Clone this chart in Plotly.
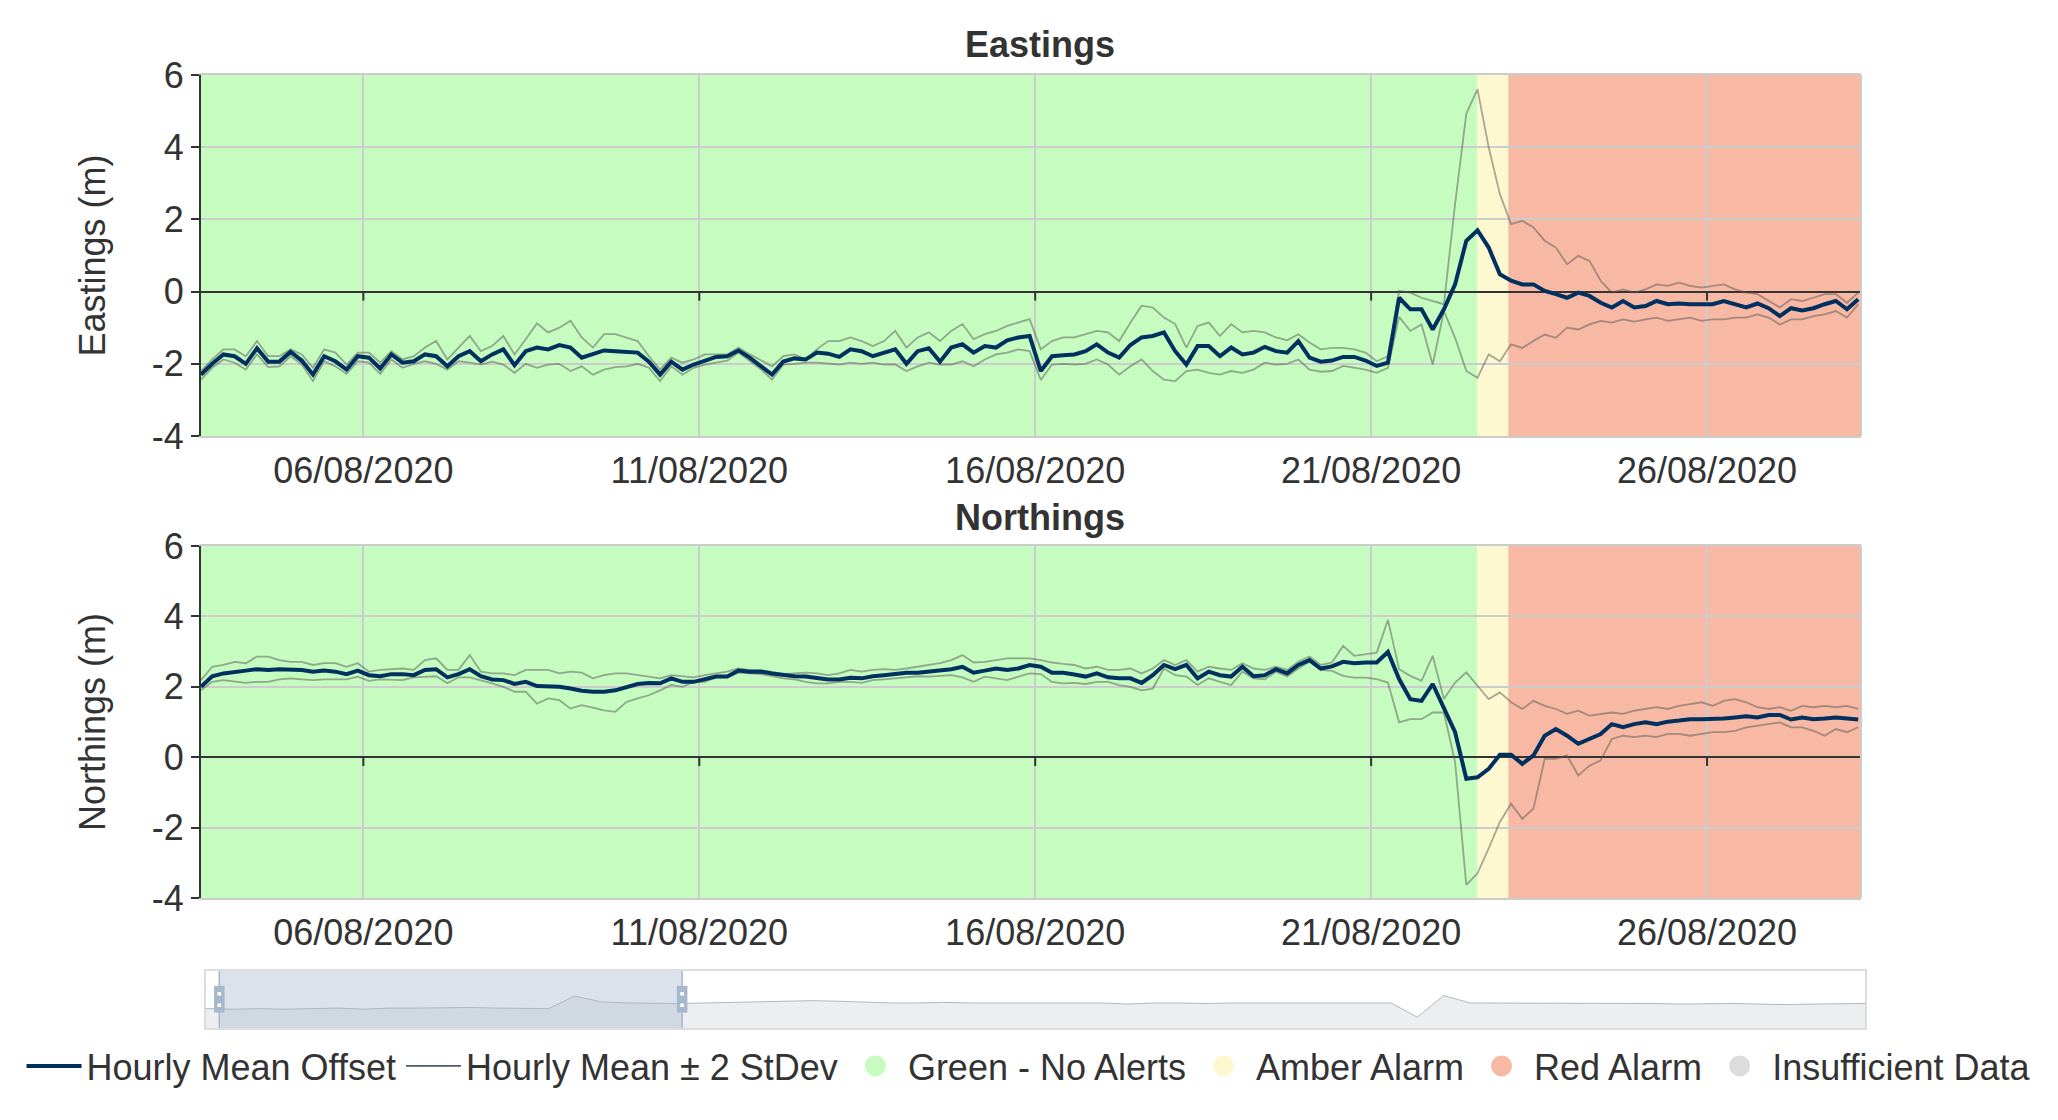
import pandas as pd
import plotly.graph_objects as go

# ---------------- data (4-hourly samples) ----------------
start_time = "2020-08-03 14:00"
range_end = "2020-08-28 07:00"
tick_dates = ["2020-08-06", "2020-08-11", "2020-08-16", "2020-08-21", "2020-08-26"]
y_ticks = [-4, -2, 0, 2, 4, 6]
y_tick_text = ["-4", "-2", "0", "2", "4", "6"]

e_mean = [-2.30, -2.00, -1.74, -1.79, -2.00, -1.57, -1.94, -1.94, -1.67, -1.91,
          -2.30, -1.79, -1.93, -2.16, -1.79, -1.83, -2.13, -1.74, -1.97, -1.93,
          -1.74, -1.79, -2.07, -1.79, -1.65, -1.93, -1.74, -1.60, -2.04, -1.65,
          -1.55, -1.60, -1.48, -1.55, -1.83, -1.74, -1.63, -1.65, -1.67, -1.69,
          -1.94, -2.30, -1.94, -2.16, -2.02, -1.91, -1.81, -1.79, -1.63, -1.83,
          -2.05,
          -2.30, -1.94, -1.85, -1.88, -1.69, -1.72, -1.81, -1.60, -1.65, -1.79,
          -1.69, -1.60, -2.00, -1.65, -1.57, -1.94, -1.55, -1.46, -1.69, -1.51,
          -1.55, -1.35, -1.27, -1.23, -2.20, -1.79, -1.76, -1.74, -1.65, -1.46,
          -1.69, -1.83, -1.48, -1.27, -1.23, -1.13, -1.65, -2.02, -1.51, -1.51,
          -1.79, -1.55, -1.74, -1.69, -1.53, -1.65, -1.69, -1.37, -1.83, -1.94,
          -1.91, -1.81, -1.81, -1.91, -2.06, -1.97, -0.17, -0.49, -0.49, -1.05,
          -0.49, 0.20, 1.41, 1.70, 1.22, 0.48, 0.30, 0.20, 0.20, 0.02,
          -0.07, -0.17, -0.03, -0.12, -0.31, -0.44, -0.26, -0.44, -0.40, -0.26,
          -0.35, -0.33, -0.35, -0.35, -0.35, -0.26, -0.35, -0.44, -0.33, -0.46,
          -0.68, -0.46, -0.52, -0.46, -0.35, -0.26, -0.49, -0.21]

e_upper = [-2.20, -1.88, -1.60, -1.60, -1.79, -1.37, -1.79, -1.79, -1.60, -1.74,
           -2.11, -1.60, -1.69, -2.02, -1.69, -1.69, -1.97, -1.65, -1.88, -1.79,
           -1.55, -1.37, -1.88, -1.55, -1.23, -1.65, -1.51, -1.23, -1.74, -1.32,
           -0.88, -1.13, -1.00, -0.81, -1.27, -1.55, -1.18, -1.18, -1.27, -1.37,
           -1.79, -2.16, -1.83, -1.97, -1.88, -1.74, -1.74, -1.74, -1.55, -1.74,
           -1.90,
           -2.07, -1.79, -1.74, -1.88, -1.60, -1.37, -1.37, -1.27, -1.37, -1.51,
           -1.37, -1.09, -1.55, -1.27, -1.13, -1.37, -1.09, -0.90, -1.32, -1.18,
           -1.09, -0.95, -0.86, -0.76, -1.60, -1.37, -1.27, -1.27, -1.18, -1.09,
           -1.13, -1.37, -0.86, -0.39, -0.44, -0.72, -0.90, -1.55, -0.95, -0.86,
           -1.23, -0.90, -1.13, -1.09, -1.13, -1.27, -1.35, -1.18, -1.41, -1.60,
           -1.56, -1.56, -1.60, -1.69, -1.93, -1.79, 0.02, -0.03, -0.17, -0.26,
           -0.35, 2.43, 4.93, 5.60, 4.00, 2.70, 1.87, 1.96, 1.78, 1.41,
           1.22, 0.76, 0.99, 0.85, 0.30, -0.03, 0.06, -0.03, 0.06, 0.20,
           0.16, 0.25, 0.16, 0.11, 0.16, 0.20, 0.06, -0.03, -0.07, -0.26,
           -0.44, -0.21, -0.26, -0.17, -0.07, -0.07, -0.31, -0.03]

e_lower = [-2.44, -2.11, -1.88, -1.97, -2.16, -1.74, -2.09, -2.07, -1.79, -2.02,
           -2.48, -1.93, -2.07, -2.28, -1.93, -1.97, -2.28, -1.88, -2.11, -2.00,
           -1.93, -2.00, -2.16, -1.93, -1.97, -2.02, -1.94, -2.02, -2.25, -2.00,
           -2.11, -2.02, -2.00, -2.20, -2.07, -2.30, -2.16, -2.09, -2.07, -2.00,
           -2.11, -2.48, -2.07, -2.30, -2.11, -2.02, -1.97, -1.91, -1.69, -1.93,
           -2.15,
           -2.44, -2.02, -2.00, -1.97, -1.97, -2.00, -2.02, -1.97, -2.00, -1.97,
           -2.02, -2.02, -2.20, -2.07, -1.97, -2.02, -2.02, -1.93, -2.07, -1.88,
           -1.74, -1.69, -1.60, -1.65, -2.45, -2.02, -2.00, -2.02, -2.00, -1.88,
           -2.02, -2.30, -2.07, -1.88, -2.20, -2.44, -2.48, -2.20, -2.16, -2.25,
           -2.30, -2.20, -2.25, -2.16, -1.97, -2.02, -2.00, -1.88, -2.16, -2.22,
           -2.20, -2.06, -2.11, -2.16, -2.25, -2.11, -0.70, -1.09, -0.91, -2.02,
           -0.54, -1.28, -2.20, -2.39, -1.74, -1.93, -1.46, -1.56, -1.37, -1.19,
           -1.28, -1.00, -1.05, -0.91, -0.81, -0.86, -0.77, -0.83, -0.77, -0.72,
           -0.81, -0.77, -0.72, -0.81, -0.77, -0.77, -0.72, -0.72, -0.63, -0.72,
           -0.91, -0.77, -0.77, -0.68, -0.63, -0.54, -0.72, -0.35]

n_mean = [2.00, 2.30, 2.38, 2.43, 2.46, 2.50, 2.48, 2.50, 2.50, 2.48,
          2.43, 2.46, 2.43, 2.36, 2.46, 2.33, 2.30, 2.36, 2.36, 2.33,
          2.48, 2.50, 2.27, 2.36, 2.50, 2.30, 2.21, 2.19, 2.08, 2.14,
          2.02, 2.02, 2.00, 1.95, 1.89, 1.86, 1.86, 1.90, 2.00, 2.08,
          2.11, 2.10, 2.24, 2.14, 2.14, 2.21, 2.29, 2.29, 2.46, 2.43,
          2.43,
          2.38, 2.33, 2.30, 2.29, 2.24, 2.21, 2.21, 2.26, 2.24, 2.30,
          2.33, 2.36, 2.40, 2.40, 2.43, 2.46, 2.50, 2.57, 2.40, 2.46,
          2.52, 2.48, 2.52, 2.62, 2.57, 2.40, 2.40, 2.35, 2.29, 2.38,
          2.27, 2.24, 2.24, 2.11, 2.33, 2.62, 2.50, 2.62, 2.24, 2.43,
          2.33, 2.29, 2.57, 2.30, 2.33, 2.50, 2.38, 2.62, 2.76, 2.52,
          2.58, 2.71, 2.67, 2.69, 2.69, 2.99, 2.22, 1.65, 1.60, 2.08,
          1.42, 0.71, -0.61, -0.57, -0.33, 0.07, 0.07, -0.19, 0.05, 0.61,
          0.80, 0.61, 0.38, 0.52, 0.66, 0.94, 0.85, 0.94, 0.99, 0.94,
          1.01, 1.04, 1.08, 1.08, 1.08, 1.10, 1.13, 1.16, 1.13, 1.20,
          1.20, 1.07, 1.13, 1.08, 1.10, 1.13, 1.10, 1.07]

n_upper = [2.19, 2.57, 2.62, 2.71, 2.67, 2.86, 2.86, 2.76, 2.71, 2.71,
           2.62, 2.67, 2.67, 2.57, 2.67, 2.43, 2.48, 2.50, 2.52, 2.48,
           2.76, 2.81, 2.48, 2.48, 2.90, 2.43, 2.38, 2.38, 2.33, 2.48,
           2.48, 2.48, 2.38, 2.43, 2.40, 2.24, 2.33, 2.38, 2.38, 2.33,
           2.29, 2.24, 2.33, 2.29, 2.27, 2.33, 2.38, 2.43, 2.52, 2.48,
           2.48,
           2.43, 2.36, 2.38, 2.40, 2.38, 2.33, 2.38, 2.48, 2.43, 2.48,
           2.50, 2.48, 2.52, 2.57, 2.62, 2.67, 2.76, 2.90, 2.69, 2.71,
           2.76, 2.81, 2.81, 2.81, 2.76, 2.69, 2.65, 2.62, 2.52, 2.57,
           2.48, 2.48, 2.52, 2.38, 2.52, 2.76, 2.62, 2.76, 2.43, 2.57,
           2.52, 2.48, 2.67, 2.52, 2.48, 2.57, 2.48, 2.71, 2.86, 2.62,
           2.69, 3.16, 2.88, 2.92, 2.97, 3.90, 2.50, 2.31, 2.17, 2.88,
           1.65, 2.12, 2.41, 2.03, 1.65, 1.84, 1.56, 1.37, 1.60, 1.46,
           1.37, 1.23, 1.32, 1.18, 1.23, 1.27, 1.23, 1.32, 1.37, 1.42,
           1.37, 1.46, 1.51, 1.56, 1.46, 1.60, 1.65, 1.56, 1.42, 1.37,
           1.42, 1.32, 1.46, 1.42, 1.46, 1.42, 1.46, 1.37]

n_lower = [1.90, 2.14, 2.19, 2.14, 2.11, 2.14, 2.14, 2.21, 2.24, 2.21,
           2.19, 2.21, 2.21, 2.21, 2.29, 2.17, 2.21, 2.21, 2.19, 2.27,
           2.29, 2.30, 2.10, 2.27, 2.27, 2.19, 2.10, 2.00, 1.86, 1.86,
           1.52, 1.67, 1.62, 1.38, 1.48, 1.41, 1.33, 1.29, 1.57, 1.67,
           1.76, 1.90, 2.05, 2.00, 2.14, 2.14, 2.27, 2.27, 2.40, 2.38,
           2.36,
           2.30, 2.24, 2.21, 2.14, 2.10, 2.10, 2.14, 2.14, 2.11, 2.19,
           2.21, 2.24, 2.29, 2.30, 2.29, 2.30, 2.33, 2.27, 2.14, 2.29,
           2.24, 2.19, 2.29, 2.38, 2.36, 2.14, 2.10, 2.11, 2.08, 2.14,
           2.14, 2.05, 2.00, 1.90, 1.95, 2.52, 2.33, 2.29, 2.05, 2.24,
           2.14, 2.05, 2.43, 2.24, 2.21, 2.43, 2.29, 2.52, 2.71, 2.48,
           2.45, 2.31, 2.26, 2.26, 2.22, 2.12, 0.99, 1.08, 1.08, 1.27,
           1.27, -0.14, -3.63, -3.30, -2.59, -1.84, -1.32, -1.75, -1.46, -0.05,
           -0.05, 0.05, -0.52, -0.24, -0.09, 0.52, 0.61, 0.57, 0.61, 0.57,
           0.66, 0.66, 0.61, 0.66, 0.71, 0.71, 0.75, 0.85, 0.90, 0.94,
           0.99, 0.85, 0.85, 0.75, 0.61, 0.80, 0.71, 0.85]

# alarm state periods
band_start = ["2020-08-03 14:00", "2020-08-22 14:00", "2020-08-23 01:00"]
band_end = ["2020-08-22 14:00", "2020-08-23 01:00", "2020-08-28 07:00"]
band_state = ["Green - No Alerts", "Amber Alarm", "Red Alarm"]

state_names = ["Green - No Alerts", "Amber Alarm", "Red Alarm", "Insufficient Data"]
state_colors = ["#c6fcbf", "#fef8d1", "#f7b9a3", "#dcdcdc"]

# data-zoom slider: overview shadow and selected window (percent)
shadow = [0.34, 0.33, 0.34, 0.33, 0.34, 0.35, 0.33, 0.35, 0.35, 0.36,
          0.36, 0.35, 0.34, 0.34, 0.56, 0.46, 0.44, 0.43, 0.43, 0.44,
          0.45, 0.45, 0.47, 0.48, 0.47, 0.45, 0.44, 0.44, 0.45, 0.44,
          0.44, 0.44, 0.44, 0.43, 0.44, 0.42, 0.44, 0.44, 0.43, 0.44,
          0.44, 0.44, 0.44, 0.43, 0.44, 0.44, 0.19, 0.57, 0.44, 0.44,
          0.44, 0.43, 0.44, 0.43, 0.43, 0.43, 0.42, 0.43, 0.43, 0.42,
          0.41, 0.42, 0.43, 0.43]
zoom_start_pct = 0.8
zoom_end_pct = 28.7

# ---------------- figure ----------------
times = pd.date_range(start_time, periods=len(e_mean), freq="4h")
color_of = dict(zip(state_names, state_colors))

FONT = "Liberation Sans, Arial, Helvetica, sans-serif"
TXT = "#333333"
MEAN_C = "#00305f"
BAND_C = "rgba(85,85,85,0.5)"
BAND_LEG_C = "#4f5b66"

W, H = 2058, 1120
X_DOM = [201 / W, 1861 / W]
Y1_DOM = [(H - 436) / H, (H - 75) / H]
Y2_DOM = [(H - 898) / H, (H - 546) / H]
S_XDOM = [206 / W, 1865 / W]
S_YDOM = [(H - 1028) / H, (H - 971) / H]

fig = go.Figure()

panels = [("x", "y", e_mean, e_upper, e_lower), ("x2", "y2", n_mean, n_upper, n_lower)]
for k, (xa, ya, mean, up, lo) in enumerate(panels):
    for series in (up, lo):
        fig.add_trace(go.Scatter(x=times, y=series, xaxis=xa, yaxis=ya, mode="lines",
                                 line=dict(color=BAND_C, width=1.8),
                                 name="Hourly Mean ± 2 StDev", legendgroup="sd",
                                 showlegend=False))
    fig.add_trace(go.Scatter(x=times, y=mean, xaxis=xa, yaxis=ya, mode="lines",
                             line=dict(color=MEAN_C, width=4), name="Hourly Mean Offset",
                             legendgroup="mean", showlegend=(k == 0), legendrank=1))

# legend entry for the ±2 StDev series (drawn in the series' legend colour)
fig.add_trace(go.Scatter(x=[None], y=[None], mode="lines", name="Hourly Mean ± 2 StDev",
                         line=dict(color=BAND_LEG_C, width=1.8), legendgroup="sd",
                         legendrank=2))

for r, (nm, col) in enumerate(zip(state_names, state_colors)):
    fig.add_trace(go.Scatter(x=[None], y=[None], mode="markers", name=nm,
                             marker=dict(color=col, size=16, symbol="circle",
                                         line=dict(color=col, width=5)),
                             legendrank=3 + r))

# slider shadow
sx = list(range(len(shadow)))
fig.add_trace(go.Scatter(x=sx, y=shadow, xaxis="x3", yaxis="y3", mode="lines",
                         line=dict(color="rgba(47,69,84,0.35)", width=1),
                         fill="tozeroy", fillcolor="rgba(47,69,84,0.09)",
                         showlegend=False, hoverinfo="skip"))

shapes = []
for xa, ya in [("x", "y"), ("x2", "y2")]:
    for s, e, st in zip(band_start, band_end, band_state):
        shapes.append(dict(type="rect", xref=xa, yref=ya + " domain", x0=s, x1=e, y0=0, y1=1,
                           fillcolor=color_of[st], line=dict(width=0), layer="below"))
    for t in tick_dates:
        shapes.append(dict(type="line", xref=xa, yref=ya, x0=t, x1=t, y0=0, y1=-0.25,
                           line=dict(color=TXT, width=2), layer="above"))
    shapes.append(dict(type="line", xref=xa + " domain", yref=ya + " domain", x0=1, x1=1,
                       y0=0, y1=1, line=dict(color="#cccccc", width=2), layer="above"))

# slider window
n_sh = len(shadow) - 1
w0 = zoom_start_pct / 100 * n_sh
w1 = zoom_end_pct / 100 * n_sh
shapes.append(dict(type="rect", xref="x3", yref="y3 domain", x0=w0, x1=w1, y0=0, y1=1,
                   fillcolor="rgba(167,183,204,0.4)", line=dict(width=0), layer="above"))
hw = 0.2
for wx in (w0, w1):
    shapes.append(dict(type="line", xref="x3", yref="y3 domain", x0=wx, x1=wx, y0=0, y1=1,
                       line=dict(color="#a7b7cc", width=1.5), layer="above"))
    shapes.append(dict(type="rect", xref="x3", yref="y3 domain", x0=wx - hw, x1=wx + hw,
                       y0=0.27, y1=0.74, fillcolor="#a7b7cc", line=dict(width=0), layer="above"))
    for yy in (0.4, 0.6):
        shapes.append(dict(type="rect", xref="x3", yref="y3 domain", x0=wx - 0.07, x1=wx + 0.07,
                           y0=yy - 0.03, y1=yy + 0.03, fillcolor="white", line=dict(width=0),
                           layer="above"))

fig.update_layout(shapes=shapes)

xcommon = dict(domain=X_DOM, type="date", range=[start_time, range_end],
               tickvals=tick_dates, tickformat="%d/%m/%Y", showgrid=True,
               gridcolor="#cccccc", gridwidth=1.5, showline=True, mirror=True,
               linecolor="#cccccc", linewidth=2, ticks="", zeroline=False,
               tickfont=dict(family=FONT, size=36, color=TXT), ticklabelstandoff=2)
ycommon = dict(range=[-4, 6], tickvals=y_ticks, ticktext=y_tick_text, showgrid=True,
               gridcolor="#cccccc", gridwidth=1.5, zeroline=True, zerolinecolor=TXT,
               zerolinewidth=2, showline=True, linecolor=TXT, linewidth=2, mirror=False,
               ticks="outside", ticklen=8, tickwidth=2, tickcolor=TXT,
               tickfont=dict(family=FONT, size=36, color=TXT), ticklabelstandoff=0)

fig.update_layout(
    width=W, height=H, autosize=False,
    margin=dict(l=0, r=0, t=0, b=0, autoexpand=False),
    paper_bgcolor="white", plot_bgcolor="white",
    font=dict(family=FONT, size=36, color=TXT),
    xaxis=dict(anchor="y", **xcommon),
    yaxis=dict(anchor="x", domain=Y1_DOM, **ycommon),
    xaxis2=dict(anchor="y2", **xcommon),
    yaxis2=dict(anchor="x2", domain=Y2_DOM, **ycommon),
    xaxis3=dict(anchor="y3", domain=S_XDOM, range=[0, n_sh], showgrid=False, zeroline=False,
                showticklabels=False, showline=True, mirror=True, linecolor="#dddddd",
                linewidth=2, ticks=""),
    yaxis3=dict(anchor="x3", domain=S_YDOM, range=[0, 1], showgrid=False, zeroline=False,
                showticklabels=False, showline=True, mirror=True, linecolor="#dddddd",
                linewidth=2, ticks=""),
    legend=dict(orientation="h", x=0.5, xanchor="center", y=(H - 1066) / H,
                yanchor="middle", font=dict(family=FONT, size=36, color=TXT),
                itemwidth=55, bgcolor="rgba(0,0,0,0)"),
    showlegend=True,
    hovermode=False,
)

annots = [
    dict(text="<b>Eastings</b>", x=1040 / W, y=(H - 45) / H),
    dict(text="<b>Northings</b>", x=1040 / W, y=(H - 517) / H),
    dict(text="Eastings (m)", x=92 / W, y=sum(Y1_DOM) / 2, textangle=-90),
    dict(text="Northings (m)", x=92 / W, y=sum(Y2_DOM) / 2, textangle=-90),
]
for a in annots:
    fig.add_annotation(xref="paper", yref="paper", showarrow=False, xanchor="center",
                       yanchor="middle", font=dict(family=FONT, size=36, color=TXT), **a)

fig.write_html("out.html")
